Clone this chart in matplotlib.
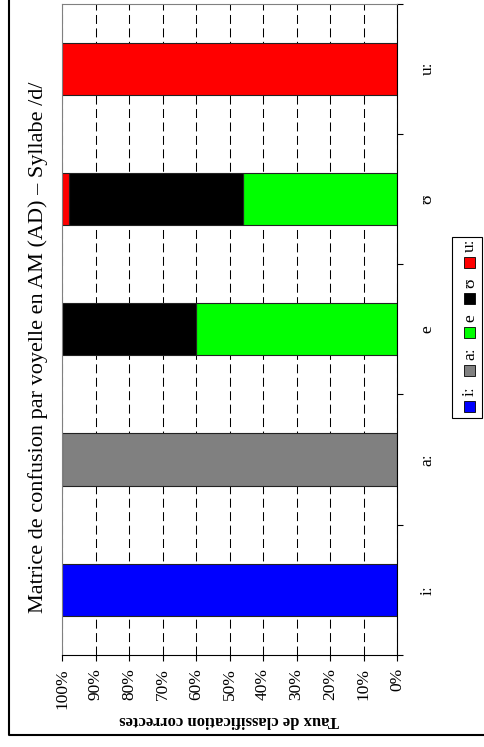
import numpy as np
import matplotlib
matplotlib.use("Agg")
import matplotlib.pyplot as plt
import matplotlib.patches as mpatches
from matplotlib.lines import Line2D

W, H = 484, 747

# voyelles (categories, de bas en haut dans la figure tournee)
categories = ["iː", "aː", "e", "ʊ", "uː"]
series_names = ["iː", "aː", "e", "ʊ", "uː"]
series_colors = ["#0000FF", "#808080", "#00FF00", "#000000", "#FF0000"]

# taux de classification (%) : une liste par voyelle reconnue
taux_i = [100, 0, 0, 0, 0]
taux_a = [0, 100, 0, 0, 0]
taux_e = [0, 0, 60, 46, 0]
taux_o = [0, 0, 40, 52, 0]
taux_u = [0, 0, 0, 2, 100]
series = [taux_i, taux_a, taux_e, taux_o, taux_u]

pct_ticks = list(range(0, 101, 10))

plt.rcParams['font.family'] = ['Liberation Serif', 'DejaVu Serif']

fig = plt.figure(figsize=(W / 100, H / 100), dpi=100)


def fx(x):
    return x / W


def fy(y):
    return 1 - y / H


ax = fig.add_axes([fx(62), fy(655), (397 - 62) / W, (655 - 3.5) / H])

y = np.arange(len(categories))
left = np.zeros(len(categories))
for vals, col in zip(series, series_colors):
    vals = np.array(vals, dtype=float)
    m = vals > 0
    ax.barh(y[m], vals[m], left=left[m], height=0.4, color=col,
            edgecolor="#222222", linewidth=0.8, zorder=2)
    left += vals

ax.set_xlim(100, 0)
ax.set_ylim(-0.5, len(categories) - 0.5)

# axe des valeurs (en bas)
ax.set_xticks(pct_ticks)
ax.set_xticklabels([f"{v}%" for v in pct_ticks], rotation=90, va="top",
                   ha="center", fontsize=12.5)
ax.tick_params(axis="x", direction="out", length=4.3, width=0.8, pad=5)
ax.xaxis.grid(True, linestyle=(0, (8.6, 4.3)), color="black", linewidth=0.75)
ax.set_axisbelow(True)

# axe des categories (a droite)
ax.yaxis.tick_right()
ax.set_yticks(np.arange(-0.5, len(categories), 1))
ax.set_yticklabels([])
ax.set_yticks(y, minor=True)
ax.set_yticklabels(categories, minor=True, rotation=90, ha="center",
                   va="center", fontsize=12.5)
ax.tick_params(axis="y", which="major", direction="out", length=4.3, width=0.8)
ax.tick_params(axis="y", which="minor", length=0, pad=22)
ax.tick_params(axis="y", which="both", left=False)

for s in ["left", "top"]:
    ax.spines[s].set_color("#808080")
    ax.spines[s].set_linewidth(0.8)
for s in ["bottom", "right"]:
    ax.spines[s].set_color("black")
    ax.spines[s].set_linewidth(0.8)

fig.text(fx(38), fy(347), "Matrice de confusion par voyelle en AM (AD) – Syllabe /d/",
         rotation=90, ha="center", va="center", fontsize=16)
fig.text(fx(229), fy(720), "Taux de classification correctes", rotation=180,
         ha="center", va="center", fontsize=12, fontweight="bold")

# cadre exterieur
fig.add_artist(Line2D([fx(9), fx(9), 1.0], [1.0, fy(735), fy(735)],
                      transform=fig.transFigure, color="black", linewidth=1.5))

# legende (tournee, construite a la main)
fig.add_artist(mpatches.Rectangle((fx(452), fy(418)), 30 / W, 181 / H,
                                  transform=fig.transFigure, facecolor="white",
                                  edgecolor="black", linewidth=0.8))
renderer = fig.canvas.get_renderer()
cursor = 412.0
for name, col in zip(series_names, series_colors):
    fig.add_artist(mpatches.Rectangle((fx(464), fy(cursor)), 11 / W, 11 / H,
                                      transform=fig.transFigure, facecolor=col,
                                      edgecolor="black", linewidth=0.6))
    cursor -= 11 + 5
    t = fig.text(fx(470), fy(cursor), name, rotation=90, ha="center",
                 va="bottom", fontsize=12.5)
    h = t.get_window_extent(renderer).height
    cursor -= h + 10

fig.savefig("out.png", dpi=100)
